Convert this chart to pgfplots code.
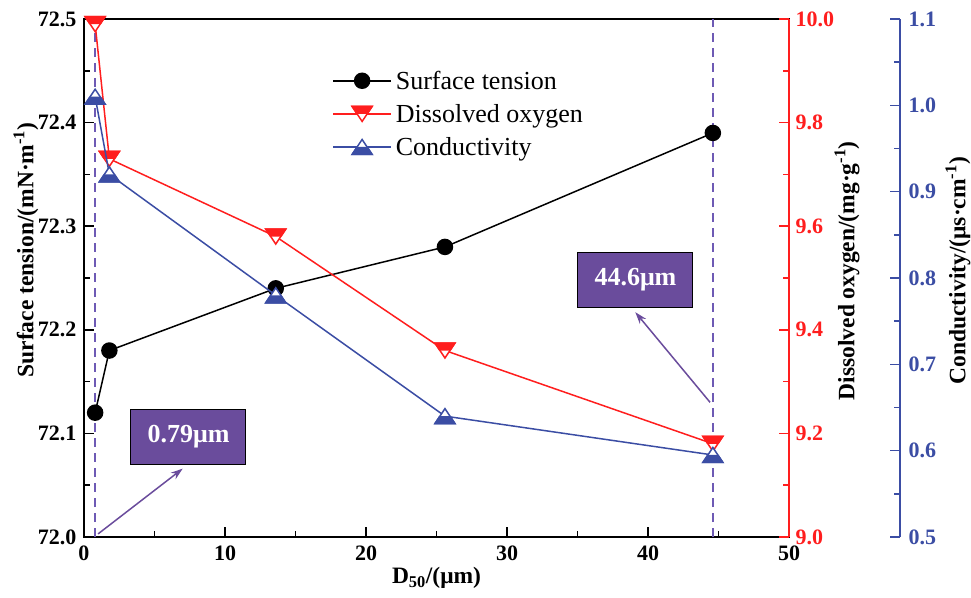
\documentclass[border=0pt]{standalone}
\usepackage{fontspec}
\setmainfont{Liberation Serif}
\usepackage{pgfplots}
\pgfplotsset{compat=1.18}
\usetikzlibrary{arrows.meta}
\definecolor{cred}{RGB}{255,30,30}
\definecolor{cblue}{RGB}{59,77,164}
\definecolor{cpurp}{RGB}{106,76,156}
\definecolor{cdash}{RGB}{110,90,180}

\pgfdeclareplotmark{htridown}{%
  \pgfpathmoveto{\pgfpoint{-\pgfplotmarksize}{0.75\pgfplotmarksize}}%
  \pgfpathlineto{\pgfpoint{\pgfplotmarksize}{0.75\pgfplotmarksize}}%
  \pgfpathlineto{\pgfpoint{0pt}{-0.75\pgfplotmarksize}}%
  \pgfpathclose
  \pgfsetfillcolor{white}\pgfusepath{fill,stroke}%
  \pgfpathmoveto{\pgfpoint{-\pgfplotmarksize}{0.75\pgfplotmarksize}}%
  \pgfpathlineto{\pgfpoint{\pgfplotmarksize}{0.75\pgfplotmarksize}}%
  \pgfpathlineto{\pgfpoint{0.55\pgfplotmarksize}{0.075\pgfplotmarksize}}%
  \pgfpathlineto{\pgfpoint{-0.55\pgfplotmarksize}{0.075\pgfplotmarksize}}%
  \pgfpathclose
  \pgfsetfillcolor{cred}\pgfusepath{fill,stroke}%
}
\pgfdeclareplotmark{htriup}{%
  \pgfpathmoveto{\pgfpoint{-\pgfplotmarksize}{-0.75\pgfplotmarksize}}%
  \pgfpathlineto{\pgfpoint{\pgfplotmarksize}{-0.75\pgfplotmarksize}}%
  \pgfpathlineto{\pgfpoint{0pt}{0.75\pgfplotmarksize}}%
  \pgfpathclose
  \pgfsetfillcolor{white}\pgfusepath{fill,stroke}%
  \pgfpathmoveto{\pgfpoint{-\pgfplotmarksize}{-0.75\pgfplotmarksize}}%
  \pgfpathlineto{\pgfpoint{\pgfplotmarksize}{-0.75\pgfplotmarksize}}%
  \pgfpathlineto{\pgfpoint{0.55\pgfplotmarksize}{-0.075\pgfplotmarksize}}%
  \pgfpathlineto{\pgfpoint{-0.55\pgfplotmarksize}{-0.075\pgfplotmarksize}}%
  \pgfpathclose
  \pgfsetfillcolor{cblue}\pgfusepath{fill,stroke}%
}

\newcommand{\tickfont}{\fontsize{22}{26}\selectfont\bfseries}
\newcommand{\labfont}{\fontsize{23.5}{28}\selectfont\bfseries}

\begin{document}
\begin{tikzpicture}[x=1pt,y=1pt]
\useasboundingbox (0,0) rectangle (971,597);
\pgfplotsset{
  every axis/.append style={
    scale only axis, width=705pt, height=518pt,
    anchor=south west,
    xmin=0, xmax=50,
    /pgf/number format/assume math mode=true,
    tick label style={font=\tickfont},
    major tick length=10pt, minor tick length=6pt,
    tick align=inside,
    scaled ticks=false,
  }
}
% main axis
\begin{axis}[
  at={(84pt,60pt)},
  ymin=72, ymax=72.5,
  xtick={0,10,20,30,40,50}, minor x tick num=1,
  ytick={72.0,72.1,72.2,72.3,72.4,72.5}, minor y tick num=1,
  xtick pos=bottom, ytick pos=left,
  axis line style={line width=2pt},
  every tick/.style={black, line width=1.5pt},
  yticklabel style={xshift=-4pt, /pgf/number format/.cd, fixed, fixed zerofill, precision=1},
  xticklabel style={yshift=-5pt},
  xlabel={D\textsubscript{50}/(μm)},
  xlabel style={font=\labfont, at={(axis description cs:0.5,-0.079)}, anchor=center},
  ylabel={Surface tension/(mN·m\textsuperscript{-1})},
  ylabel style={font=\labfont, at={(axis description cs:-0.0823,0.554)}, anchor=center},
  clip=false,
]
\addplot[cdash, line width=1.5pt, dash pattern=on 9pt off 6pt] coordinates {(0.79,72.0) (0.79,72.5)};
\addplot[cdash, line width=1.5pt, dash pattern=on 9pt off 6pt] coordinates {(44.6,72.0) (44.6,72.5)};
\addplot[black, line width=1.5pt, mark=*, mark size=7.5pt] coordinates {
  (0.79,72.12) (1.8,72.18) (13.6,72.24) (25.6,72.28) (44.6,72.39)};
\node[fill=cpurp, draw=black, line width=1pt, text=white, font=\fontsize{26}{30}\selectfont\bfseries,
  minimum width=115pt, minimum height=55pt, inner sep=0pt] at (axis cs:7.41,72.097) {0.79μm};
\node[fill=cpurp, draw=black, line width=1pt, text=white, font=\fontsize{26}{30}\selectfont\bfseries,
  minimum width=115pt, minimum height=55pt, inner sep=0pt] at (axis cs:39.11,72.248) {44.6μm};
\draw[cpurp, line width=1.5pt, -{Stealth[length=12pt,width=8pt]}] (axis cs:1.0,72.003) -- (axis cs:7.0,72.066);
\draw[cpurp, line width=1.5pt, -{Stealth[length=12pt,width=8pt]}] (axis cs:44.4,72.130) -- (axis cs:39.1,72.217);
\end{axis}
% red axis
\begin{axis}[
  at={(84pt,60pt)},
  ymin=9, ymax=10,
  axis x line=none, axis y line*=right,
  ytick={9.0,9.2,9.4,9.6,9.8,10.0}, minor y tick num=1,
  y axis line style={cred, line width=2pt},
  every tick/.style={cred, line width=1.5pt},
  yticklabel style={cred, xshift=3pt, /pgf/number format/.cd, fixed, fixed zerofill, precision=1},
  ylabel={Dissolved oxygen/(mg·g\textsuperscript{-1})},
  ylabel style={font=\labfont, at={(axis description cs:1.0823,0.514)}, anchor=center, rotate=0, black},
  clip=false,
]
\addplot[cred, line width=1.5pt, mark=htridown, mark size=10pt, mark options={solid, line width=1.5pt}] coordinates {
  (0.79,9.99) (1.8,9.73) (13.6,9.58) (25.6,9.36) (44.6,9.18)};
\end{axis}
% blue data axis
\begin{axis}[
  at={(84pt,60pt)},
  ymin=0.5, ymax=1.1,
  hide axis,
  clip=false,
  legend style={at={(axis description cs:0.352,0.908)}, anchor=north west, draw=none, fill=none,
    font=\fontsize{26}{30}\selectfont, row sep=5.5pt, inner sep=0pt,
    nodes={inner sep=4pt}},
  legend cell align=left,
  legend image code/.code={\draw[mark repeat=2, mark phase=2] plot coordinates {(0pt,0pt) (29pt,0pt) (58pt,0pt)};},
]
\addlegendimage{black, line width=1.5pt, mark=*, mark size=7.5pt}
\addlegendentry{Surface tension}
\addlegendimage{cred, line width=1.5pt, mark=htridown, mark size=10pt, mark options={solid, line width=1.5pt}}
\addlegendentry{Dissolved oxygen}
\addplot[cblue, line width=1.5pt, mark=htriup, mark size=10pt, mark options={solid, line width=1.5pt}] coordinates {
  (0.79,1.01) (1.8,0.92) (13.6,0.78) (25.6,0.64) (44.6,0.595)};
\addlegendentry{Conductivity}
\end{axis}
% blue spine
\begin{axis}[
  at={(195pt,60pt)},
  ymin=0.5, ymax=1.1,
  axis x line=none, axis y line*=right,
  ytick={0.5,0.6,0.7,0.8,0.9,1.0,1.1}, minor y tick num=1,
  y axis line style={cblue, line width=2pt},
  every tick/.style={cblue, line width=1.5pt},
  yticklabel style={cblue, xshift=5pt, /pgf/number format/.cd, fixed, fixed zerofill, precision=1},
  ylabel={Conductivity/(μs·cm\textsuperscript{-1})},
  ylabel style={font=\labfont, at={(axis description cs:1.0823,0.514)}, anchor=center, rotate=0, black},
]
\end{axis}
\end{tikzpicture}
\end{document}
